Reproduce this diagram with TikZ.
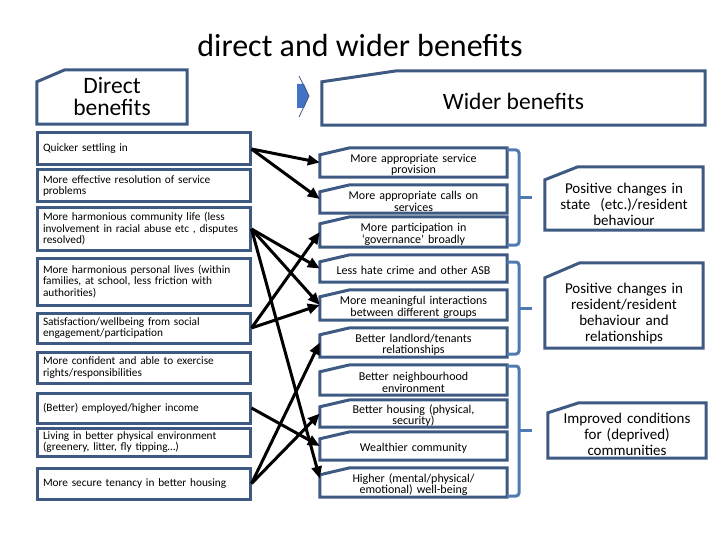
\documentclass[tikz,border=0pt]{standalone}
\usepackage{fontspec}
\setmainfont{Carlito}
\usetikzlibrary{arrows.meta}
\definecolor{boxblue}{RGB}{62,90,130}
\definecolor{bracketblue}{RGB}{79,122,178}
\definecolor{chevblue}{RGB}{68,114,196}
\hyphenpenalty=10000
\exhyphenpenalty=10000
\newcommand{\cutbox}[3]{\draw[boxline] ([yshift=-#2pt]#1.north west) -- ([xshift=#3pt]#1.north west) -- (#1.north east) -- (#1.south east) -- (#1.south west) -- cycle;}
\begin{document}
\begin{tikzpicture}[x=1pt,y=-1pt,
  boxline/.style={draw=boxblue, line width=3pt},
  leftbox/.style={boxline, minimum width=213pt, text width=201pt, inner xsep=6pt, inner ysep=0pt, align=left, font=\fontsize{11.3}{11.5}\selectfont},
  midbox/.style={minimum width=187pt, text width=181pt, inner xsep=3pt, inner ysep=0pt, align=center, font=\fontsize{12}{11.5}\selectfont, execute at begin node={\rule{0pt}{13pt}}},
  headbox/.style={minimum height=54pt, inner sep=0pt, align=center, font=\fontsize{23.5}{22}\selectfont},
  rightbox/.style={text width=152pt, inner xsep=3pt, inner ysep=0pt, align=center, font=\fontsize{15}{16}\selectfont},
  link/.style={-{Triangle[length=12pt,width=10pt]}, line width=3pt},
  bracket/.style={draw=bracketblue, line width=3pt, rounded corners=3pt}]
\useasboundingbox (0,0) rectangle (720,540);
\node[font=\fontsize{32}{32}\selectfont] (title) at (360,46) {direct and wider benefits};
\node[headbox, minimum width=150pt] (dhead) at (112,97) {Direct\\benefits};
\cutbox{dhead}{12}{28}
\node[headbox, minimum width=383pt] (whead) at (513.5,98) {\rule{0pt}{24pt}Wider benefits};
\cutbox{whead}{11}{75}
\fill[chevblue] (297,84) -- (304,84) -- (309,96) -- (304,108) -- (297,108) -- cycle;
\draw[boxblue, line width=0.8pt] (299,76) -- (309,96) -- (299,117);
% direct benefits
\node[leftbox, minimum height=32pt] (quick) at (143.5,149) {Quicker settling in};
\node[leftbox, minimum height=32pt] (effective) at (143.5,186) {More effective resolution of service problems};
\node[leftbox, minimum height=42pt] (community) at (143.5,229) {More harmonious community life (less involvement in racial abuse etc , disputes resolved)};
\node[leftbox, minimum height=47pt] (personal) at (143.5,281.5) {More harmonious personal lives (within families, at school, less friction with authorities)};
\node[leftbox, minimum height=30pt] (satisfaction) at (143.5,328) {Satisfaction/wellbeing from social engagement/participation};
\node[leftbox, minimum height=31pt] (confident) at (143.5,367.5) {More confident and able to exercise rights/responsibilities};
\node[leftbox, minimum height=30pt] (employed) at (143.5,408) {(Better) employed/higher income};
\node[leftbox, minimum height=28pt] (living) at (143.5,442) {Living in better physical environment (greenery, litter, fly tipping…)};
\node[leftbox, minimum height=31pt] (tenancy) at (143.5,483.5) {More secure tenancy in better housing};
% wider benefits
\node[midbox, minimum height=29pt] (provision) at (413.5,162.5) {More appropriate service\\provision};
\node[midbox, minimum height=28pt] (calls) at (413.5,199) {More appropriate calls on\\services};
\node[midbox, minimum height=30pt] (governance) at (413.5,232) {More participation in\\‘governance’ broadly};
\node[midbox, minimum height=27pt] (hate) at (413.5,268.5) {Less hate crime and other ASB};
\node[midbox, minimum height=30pt] (interactions) at (413.5,305) {More meaningful interactions\\between different groups};
\node[midbox, minimum height=29pt] (landlord) at (413.5,342.5) {Better landlord/tenants\\relationships};
\node[midbox, minimum height=30pt] (neighbourhood) at (413.5,380) {Better neighbourhood\\environment};
\node[midbox, minimum height=27pt] (housing) at (413.5,413.5) {Better housing (physical,\\security)};
\node[midbox, minimum height=28pt] (wealthier) at (413.5,446) {Wealthier community};
\node[midbox, minimum height=29pt] (wellbeing) at (413.5,482.5) {Higher (mental/physical/\\emotional) well-being};
\foreach \n in {provision,calls,governance,hate,interactions,landlord,neighbourhood,housing,wealthier,wellbeing}
  {\cutbox{\n}{7}{30}}
\node[rightbox, minimum height=63pt] (state) at (624,198.5) {\rule{0pt}{23pt}Positive changes in\\state~~(etc.)/resident\\behaviour};
\cutbox{state}{13}{33}
\node[rightbox, minimum height=85pt] (relations) at (624,305.5) {\rule{0pt}{26pt}Positive changes in\\resident/resident\\behaviour and\\relationships};
\cutbox{relations}{15}{35}
\node[rightbox, minimum height=55pt] (conditions) at (627,430.5) {\rule{0pt}{19pt}Improved conditions\\for (deprived)\\communities};
\cutbox{conditions}{10}{31}
\draw[bracket] (507,150) -- (519,150) -- (519,245) -- (507,245);
\draw[bracket] (519,198) -- (532,198);
\draw[bracket] (507,262) -- (519,262) -- (519,354) -- (507,354);
\draw[bracket] (519,308) -- (532,308);
\draw[bracket] (507,366) -- (519,366) -- (519,496) -- (507,496);
\draw[bracket] (519,430) -- (532,430);
\draw[link] (quick.east) -- (provision.west);
\draw[link] (quick.east) -- (calls.west);
\draw[link] (community.east) -- (hate.west);
\draw[link] (community.east) -- (interactions.west);
\draw[link] (community.east) -- ([yshift=4pt]wellbeing.west);
\draw[link] (satisfaction.east) -- (governance.west);
\draw[link] (satisfaction.east) -- (interactions.west);
\draw[link] (employed.east) -- (wealthier.west);
\draw[link] (tenancy.east) -- (housing.west);
\draw[link] (tenancy.east) -- (landlord.west);
\end{tikzpicture}
\end{document}
